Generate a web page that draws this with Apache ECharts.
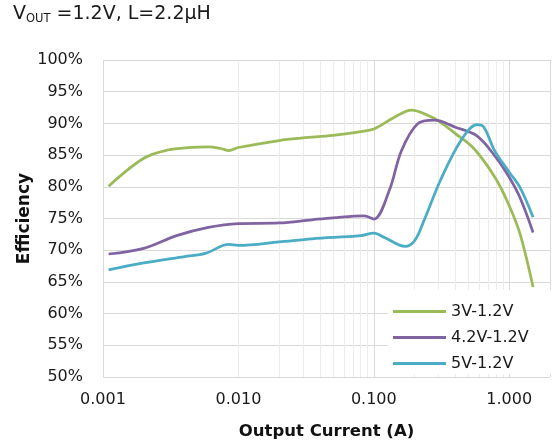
<!DOCTYPE html>
<html>
<head>
<meta charset="utf-8">
<script src="https://cdn.jsdelivr.net/npm/echarts@6/dist/echarts.min.js"></script>
<style>
html,body{margin:0;padding:0;background:#fff;}
#c{width:553px;height:446px;}
</style>
</head>
<body>
<div id="c"></div>
<script>
// ---- data ----
const seriesNames = ['3V-1.2V', '4.2V-1.2V', '5V-1.2V'];

const current3V = [0.0011, 0.002, 0.003, 0.0045, 0.006, 0.0075, 0.0085, 0.01, 0.02, 0.03, 0.05, 0.08, 0.1, 0.14, 0.19, 0.25, 0.3, 0.4, 0.55, 0.8, 1.0, 1.2, 1.5];
const eff3V     = [80.1, 84.5, 85.8, 86.2, 86.3, 86.0, 85.7, 86.2, 87.3, 87.7, 88.1, 88.7, 89.1, 90.9, 92.1, 91.3, 90.4, 88.4, 86.0, 81.2, 77.0, 72.6, 64.2];

const current42V = [0.0011, 0.002, 0.0035, 0.006, 0.01, 0.02, 0.035, 0.05, 0.085, 0.1, 0.13, 0.16, 0.21, 0.28, 0.4, 0.58, 0.8, 1.0, 1.2, 1.5];
const eff42V     = [69.4, 70.3, 72.3, 73.6, 74.2, 74.3, 74.8, 75.1, 75.4, 74.9, 79.4, 85.7, 89.9, 90.5, 89.4, 88.0, 84.6, 81.5, 78.3, 72.8];

const current5V = [0.0011, 0.002, 0.004, 0.0057, 0.0085, 0.01, 0.02, 0.035, 0.08, 0.1, 0.12, 0.17, 0.2, 0.235, 0.31, 0.44, 0.58, 0.65, 0.78, 1.0, 1.2, 1.5];
const eff5V     = [66.9, 68.0, 69.0, 69.5, 70.9, 70.75, 71.3, 71.8, 72.3, 72.7, 72.0, 70.6, 71.5, 74.7, 81.0, 87.3, 89.8, 89.4, 85.7, 82.3, 79.9, 75.2];

const xTickLabels = {0.001: '0.001', 0.01: '0.010', 0.1: '0.100', 1: '1.000'};
const colors = ['#9BBB59', '#8064A2', '#4BACC6'];

// ---- build ----
const zip = (xs, ys) => xs.map((x, i) => [x, ys[i]]);
const seriesData = [zip(current3V, eff3V), zip(current42V, eff42V), zip(current5V, eff5V)];

const minorLines = [];
[0.001, 0.01, 0.1].forEach(d => { for (let k = 2; k <= 9; k++) minorLines.push(+(k * d).toPrecision(3)); });

const font = 'DejaVu Sans';
const chart = echarts.init(document.getElementById('c'), null, {renderer: 'canvas'});
chart.setOption({
  animation: false,
  backgroundColor: '#fff',
  title: {
    left: 8, top: -2,
    text: '{a|V}{b|OUT}{a| =1.2V, L=2.2µH}',
    textStyle: {
      fontWeight: 'normal',
      rich: {
        a: {fontFamily: font, fontSize: 19, fontWeight: 'normal', color: '#1a1a1a', lineHeight: 22},
        b: {fontFamily: font, fontSize: 11.5, fontWeight: 'normal', color: '#1a1a1a', lineHeight: 17, verticalAlign: 'bottom'}
      }
    }
  },
  grid: {left: 103, top: 60, right: 0, bottom: 69, containLabel: false},
  legend: {
    data: seriesNames,
    orient: 'vertical',
    left: 388, top: 290, z: 10,
    padding: [12, 23, 1, 5],
    backgroundColor: '#ffffff',
    icon: 'rect',
    itemWidth: 53, itemHeight: 3, itemGap: 7,
    textStyle: {fontFamily: font, fontSize: 16, color: '#1a1a1a', lineHeight: 19}
  },
  xAxis: {
    type: 'log', logBase: 10, min: 0.001, max: 2,
    name: 'Output Current (A)', nameLocation: 'middle', nameGap: 46, nameMoveOverlap: false,
    nameTextStyle: {fontFamily: font, fontSize: 16.5, fontWeight: 'bold', color: '#111'},
    axisLine: {show: false}, axisTick: {show: false},
    axisLabel: {
      fontFamily: font, fontSize: 16, color: '#1a1a1a', margin: 15,
      formatter: v => { for (const k in xTickLabels) { if (Math.abs(v - Number(k)) < 1e-9) return xTickLabels[k]; } return ''; }
    },
    splitLine: {show: true, lineStyle: {color: '#d9d9d9', width: 1}}
  },
  yAxis: {
    type: 'value', min: 50, max: 100, interval: 5,
    name: 'Efficiency', nameLocation: 'middle', nameGap: 70, nameRotate: 90, nameMoveOverlap: false,
    nameTextStyle: {fontFamily: font, fontSize: 17, fontWeight: 'bold', color: '#111'},
    axisLine: {show: false}, axisTick: {show: false},
    axisLabel: {fontFamily: font, fontSize: 16, color: '#1a1a1a', margin: 20, formatter: '{value}%'},
    splitLine: {show: true, lineStyle: {color: '#d9d9d9', width: 1}}
  },
  series: [
    {
      name: 'minor', type: 'line', data: [], z: 1, silent: true,
      markLine: {
        silent: true, symbol: ['none', 'none'], animation: false,
        label: {show: false},
        lineStyle: {color: '#ececec', type: 'solid', width: 1},
        emphasis: {disabled: true},
        data: minorLines.map(v => ({xAxis: v}))
      }
    }
  ].concat(seriesNames.map((n, i) => ({
    name: n, type: 'line', data: seriesData[i], smooth: 0.35, symbol: 'none', z: 5,
    lineStyle: {color: colors[i], width: 2.75}, itemStyle: {color: colors[i]}
  })))
});
</script>
</body>
</html>
